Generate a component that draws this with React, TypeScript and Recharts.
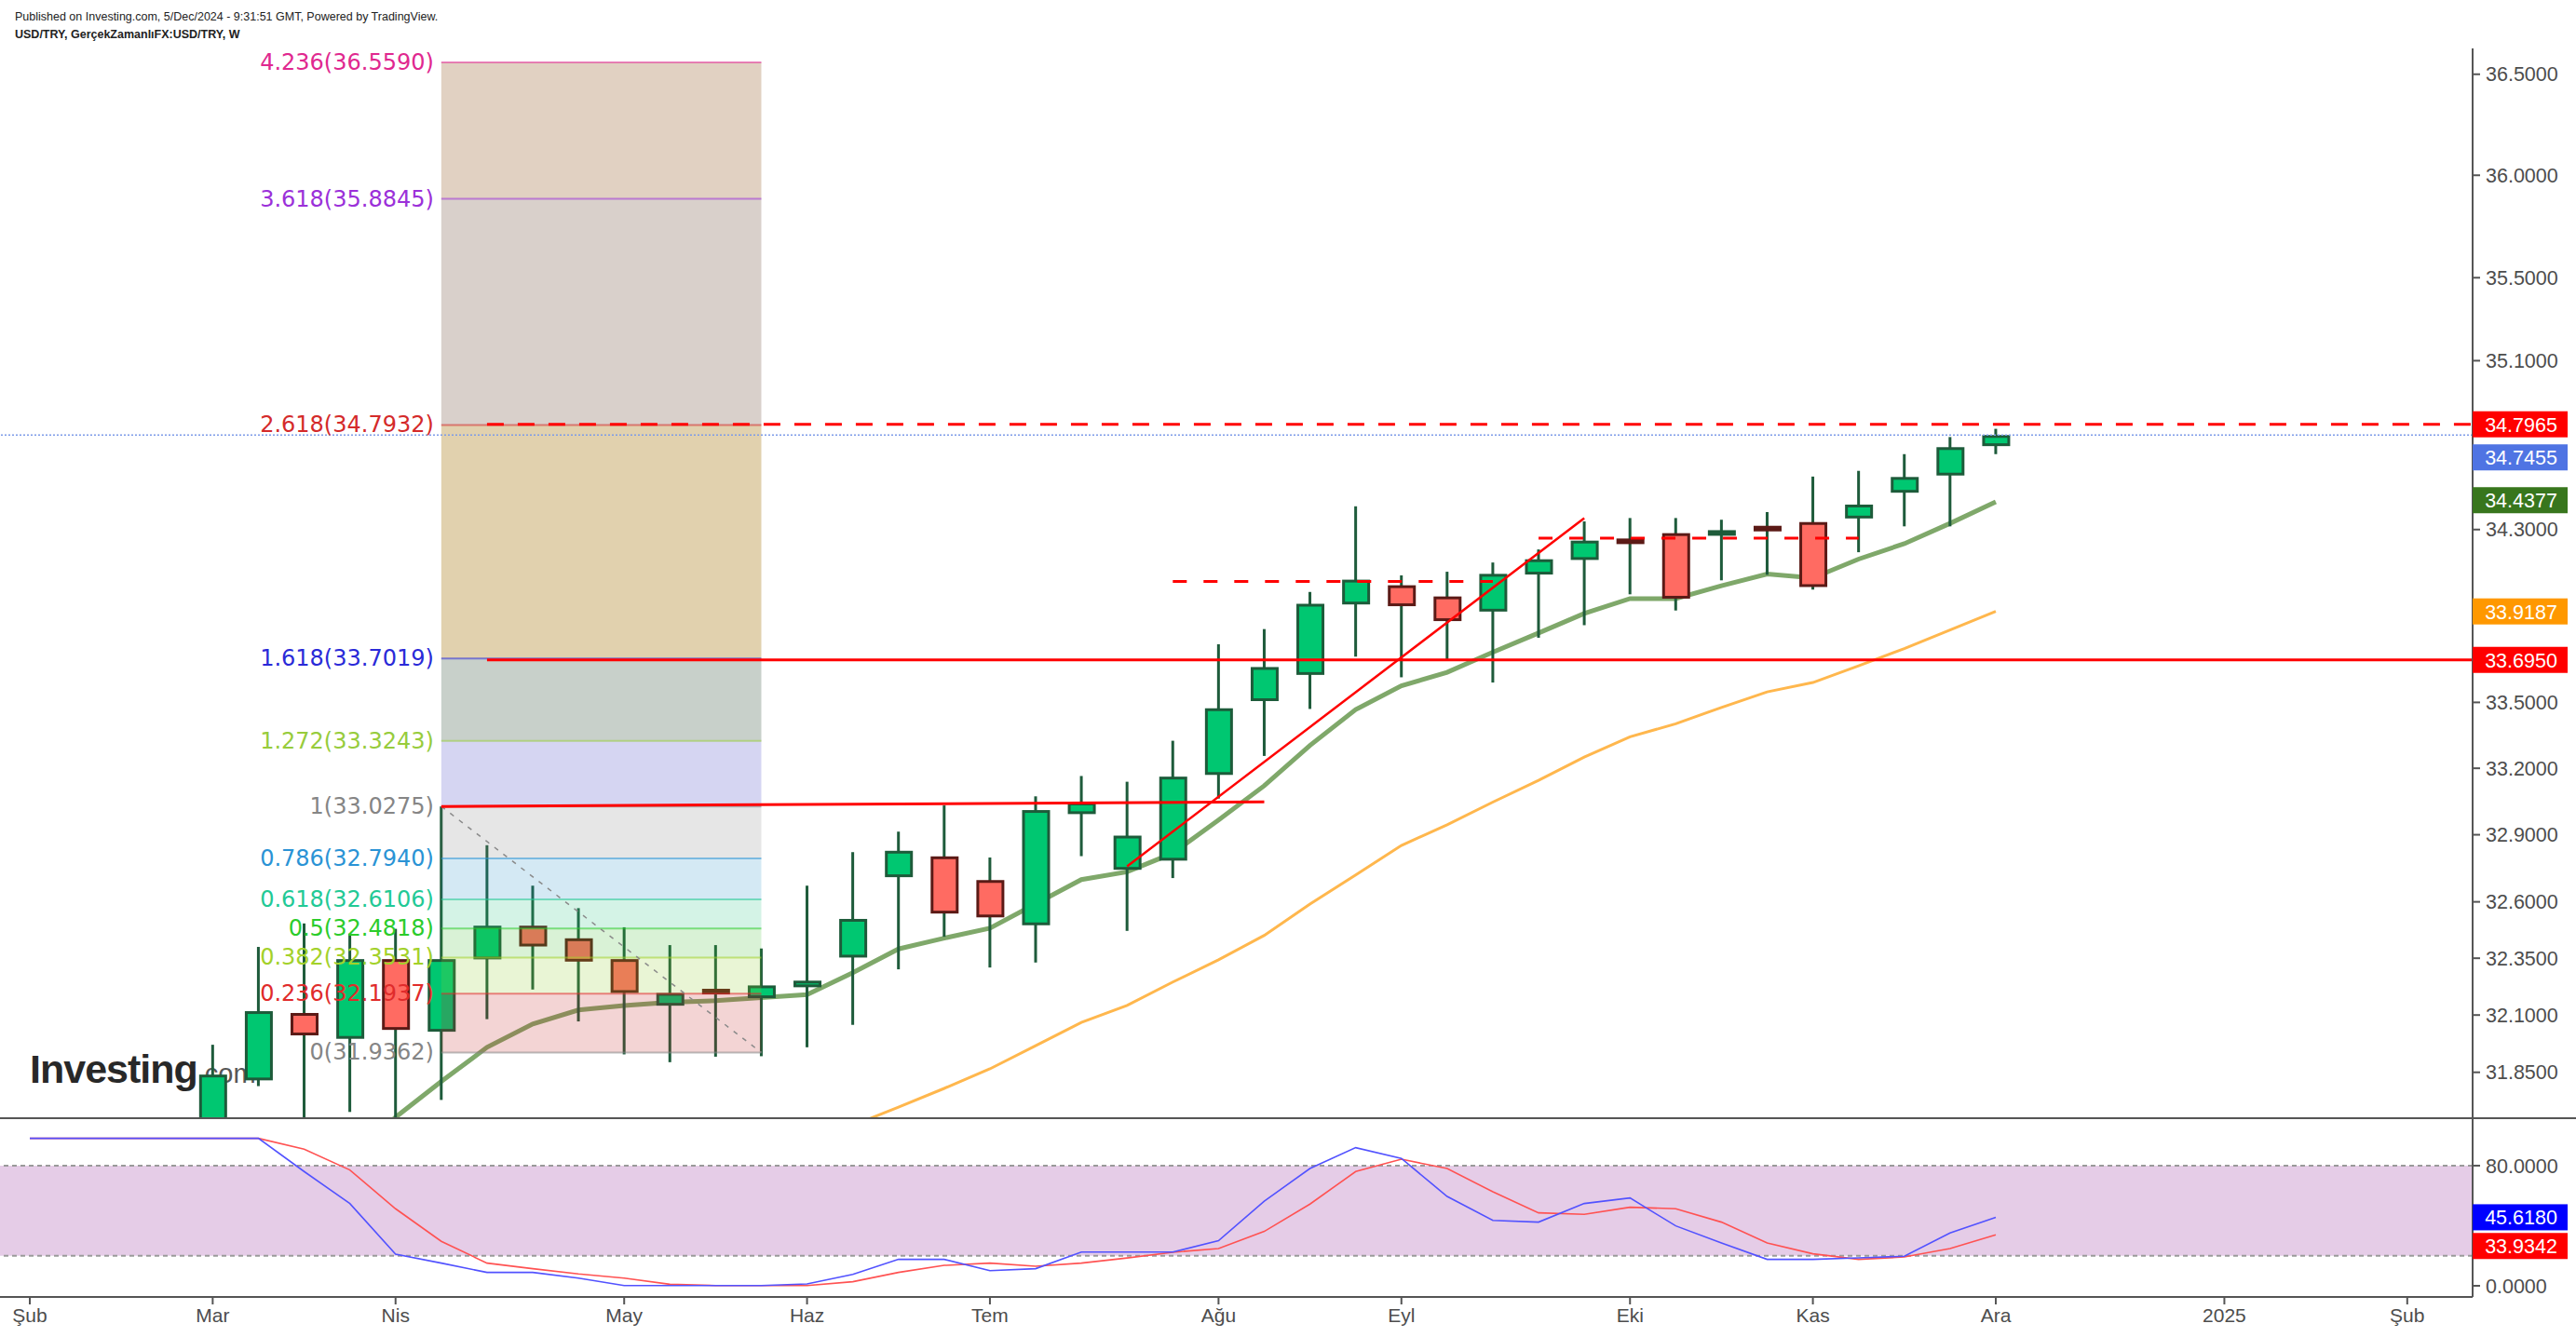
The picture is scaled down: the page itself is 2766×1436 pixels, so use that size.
import React from 'react';
import { ComposedChart, Bar, Line, XAxis, YAxis, ReferenceArea, ReferenceLine, ReferenceDot } from 'recharts';

// weekly bars, week index 0 = 5 Feb 2024
const candleStart = 4;
const candleOpen = [31.45, 31.815, 32.109, 31.996, 32.346, 32.027, 32.345, 32.494, 32.438, 32.346, 32.141, 32.209, 32.174, 32.222, 32.353, 32.71, 32.803, 32.697, 32.496, 32.993, 32.743, 32.784, 33.17, 33.506, 33.626, 33.951, 34.04, 33.988, 33.918, 34.09, 34.158, 34.251, 34.283, 34.279, 34.311, 34.335, 34.352, 34.473, 34.554, 34.693];
const candleHigh = [31.97, 32.4, 32.504, 32.459, 32.48, 33.0275, 32.853, 32.672, 32.572, 32.487, 32.408, 32.408, 32.393, 32.672, 32.822, 32.914, 33.032, 32.798, 33.073, 33.165, 33.139, 33.325, 33.767, 33.837, 34.009, 34.409, 34.086, 34.103, 34.146, 34.207, 34.338, 34.354, 34.354, 34.346, 34.382, 34.549, 34.576, 34.655, 34.736, 34.775];
const candleLow = [31.4, 31.79, 31.55, 31.678, 31.55, 31.73, 32.082, 32.212, 32.072, 31.928, 31.894, 31.918, 31.92, 31.959, 32.057, 32.301, 32.445, 32.309, 32.331, 32.804, 32.471, 32.706, 33.063, 33.256, 33.47, 33.71, 33.615, 33.69, 33.591, 33.797, 33.855, 33.998, 33.923, 34.063, 34.089, 34.02, 34.194, 34.315, 34.315, 34.655];
const candleClose = [31.84, 32.117, 32.011, 32.346, 32.035, 32.346, 32.494, 32.402, 32.335, 32.197, 32.197, 32.197, 32.23, 32.251, 32.524, 32.828, 32.548, 32.531, 33.011, 33.045, 32.896, 33.162, 33.473, 33.662, 33.954, 34.066, 33.943, 33.874, 34.093, 34.161, 34.248, 34.239, 33.978, 34.289, 34.298, 34.032, 34.417, 34.547, 34.688, 34.7455];

const fastStart = 6;
const emaFast = [31.3, 31.47, 31.655, 31.81, 31.959, 32.061, 32.122, 32.142, 32.156, 32.163, 32.176, 32.19, 32.286, 32.391, 32.439, 32.483, 32.591, 32.699, 32.734, 32.817, 32.966, 33.121, 33.304, 33.467, 33.576, 33.638, 33.73, 33.819, 33.909, 33.978, 33.978, 34.038, 34.092, 34.074, 34.162, 34.234, 34.329, 34.43];
const slowStart = 17;
const emaSlow = [31.54, 31.62, 31.699, 31.78, 31.865, 31.966, 32.068, 32.142, 32.245, 32.343, 32.451, 32.59, 32.72, 32.852, 32.945, 33.047, 33.145, 33.251, 33.343, 33.402, 33.477, 33.548, 33.591, 33.668, 33.747, 33.833, 33.9187];

const stochK = [98.2, 98.2, 98.2, 98.2, 98.2, 98.2, 76.1, 54.8, 21.1, 15.1, 8.9, 8.9, 5.1, 0.2, 0.2, 0.2, 0.2, 1.2, 7.6, 17.6, 17.6, 10.1, 11.4, 22.5, 22.5, 22.5, 30.0, 56.4, 78.1, 92.0, 84.8, 59.5, 43.6, 42.4, 54.8, 58.5, 39.9, 28.5, 17.6, 17.6, 18.6, 19.7, 35.2, 45.618];
const stochD = [98.2, 98.2, 98.2, 98.2, 98.2, 98.2, 91.0, 77.1, 51.3, 29.6, 15.1, 11.4, 7.9, 5.1, 1.0, 0.2, 0.2, 0.2, 2.7, 8.9, 13.6, 15.1, 13.0, 15.1, 18.5, 22.3, 24.8, 36.2, 54.4, 76.1, 84.3, 78.1, 62.6, 48.6, 47.6, 52.3, 51.3, 42.4, 28.5, 21.3, 17.6, 19.2, 24.8, 33.9342];

const monthTicks = [0, 4, 8, 13, 17, 21, 26, 30, 35, 39, 43, 48, 52];
const monthLabels = ['Şub', 'Mar', 'Nis', 'May', 'Haz', 'Tem', 'Ağu', 'Eyl', 'Eki', 'Kas', 'Ara', '2025', 'Şub'];
const priceTicks = [31.85, 32.1, 32.35, 32.6, 32.9, 33.2, 33.5, 34.3, 35.1, 35.5, 36.0, 36.5];
const stochTicks = [0, 80];

const fibRatios = ['0', '0.236', '0.382', '0.5', '0.618', '0.786', '1', '1.272', '1.618', '2.618', '3.618', '4.236'];
const fibPrices = [31.9362, 32.1937, 32.3531, 32.4818, 32.6106, 32.794, 33.0275, 33.3243, 33.7019, 34.7932, 35.8845, 36.559];
const fibColors = ['#858585', '#e02b2b', '#a3d12a', '#2bcc2b', '#22c995', '#2a93d5', '#858585', '#97cc3c', '#2a2ad8', '#d42a2a', '#9b30d9', '#e0288f'];
const fibFills = ['#c32828', '#91cd2d', '#41be32', '#28c382', '#2891c8', '#828282', '#2d2dbe', '#486250', '#a97c18', '#806252', '#9b6634'];
const fibAlpha = [0.2, 0.2, 0.2, 0.2, 0.2, 0.2, 0.2, 0.3, 0.35, 0.3, 0.3];
const fibFrom = 9;
const fibTo = 16;

const xDomain = [-0.652, 53.43];
const priceDomain = [31.651, 36.629];
const stochDomain = [-7.44, 111.6];

const axisFont = '"Liberation Sans", Arial, sans-serif';
const fibFont = '"DejaVu Sans", Verdana, sans-serif';

const priceRows = candleOpen.map((o, k) => {
  const i = k + candleStart;
  const c = candleClose[k];
  return {
    i,
    o,
    c,
    body: [Math.min(o, c), Math.max(o, c)],
    wick: [candleLow[k], candleHigh[k]],
    fast: i >= fastStart ? emaFast[i - fastStart] : null,
    slow: i >= slowStart ? emaSlow[i - slowStart] : null,
  };
});

const stochRows = stochK.map((k, i) => ({ i, k, d: stochD[i] }));

const Body = (p: any) => {
  const { x, y, width, height, payload } = p;
  if (x == null || isNaN(y)) return null;
  const up = payload.c >= payload.o;
  const h = Math.max(height, 6);
  const yy = y - (h - height) / 2;
  return (
    <rect x={x + 1.5} y={yy + 1.5} width={width - 3} height={h - 3}
      fill={up ? '#00c771' : '#ff6b62'} stroke={up ? '#1d5b3a' : '#5b1a16'} strokeWidth={3} />
  );
};

const Wick = (p: any) => {
  const { x, y, width, height } = p;
  if (x == null || isNaN(y)) return null;
  return <rect x={x} y={y} width={width} height={height} fill="#1e5b3b" />;
};

const tag = (text: string, bg: string, dy = 0) => (props: any) => {
  const vb = props.viewBox || {};
  const x = vb.x + (vb.width || 0) / 2;
  const y = vb.y + (vb.height || 0) / 2 + dy;
  return (
    <g>
      <rect x={x} y={y - 14} width={102} height={28} fill={bg} />
      <text x={x + 52} y={y + 1} textAnchor="middle" dominantBaseline="central" fill="#fff"
        fontSize={21.5} fontFamily={axisFont}>{text}</text>
    </g>
  );
};

const fibLabel = (text: string, color: string) => (props: any) => {
  const vb = props.viewBox || {};
  const x = vb.x + (vb.width || 0) / 2;
  const y = vb.y + (vb.height || 0) / 2;
  return (
    <text x={x - 8} y={y} textAnchor="end" dominantBaseline="central" fill={color}
      fontSize={24} fontFamily={fibFont}>{text}</text>
  );
};

const mainTags = [
  { v: 34.7965, bg: '#ff0000', dy: 0 },
  { v: 34.7455, bg: '#4f74e3', dy: 24 },
  { v: 34.4377, bg: '#38761d', dy: 0 },
  { v: 33.9187, bg: '#ff9800', dy: 0 },
  { v: 33.695, bg: '#ff0000', dy: 0 },
];
const stochTags = [
  { v: 45.618, bg: '#0000ff', dy: 0 },
  { v: 33.9342, bg: '#ff0000', dy: 12 },
];

const ids = { xAxisId: 'm', yAxisId: 'p' };
const z = (n: number): any => ({ zIndex: n });

export default function App() {
  return (
    <div style={{ position: 'absolute', left: 0, top: 0, width: 2766, height: 1436, background: '#fff', overflow: 'hidden' }}>
      <div style={{ position: 'absolute', left: 16, top: 10, fontFamily: axisFont, fontSize: 12.5, color: '#222', lineHeight: '17px' }}>
        <div>Published on Investing.com, 5/Dec/2024 - 9:31:51 GMT, Powered by TradingView.</div>
        <div style={{ fontWeight: 700, marginTop: 2 }}>USD/TRY, GerçekZamanlıFX:USD/TRY, W</div>
      </div>
      <div style={{ position: 'absolute', left: 32, top: 1124, fontFamily: axisFont, whiteSpace: 'nowrap', opacity: 0.9 }}>
        <span style={{ fontSize: 43, fontWeight: 900, color: '#111', letterSpacing: -1 }}>Investing</span>
        <span style={{ fontSize: 29, color: '#444' }}>.com</span>
      </div>
      <div style={{ position: 'absolute', left: 0, top: 0 }}>
        <ComposedChart width={2766} height={1201} data={priceRows} margin={{ top: 52, right: 0, bottom: 0, left: 0 }}>
          <XAxis xAxisId="m" dataKey="i" type="number" domain={xDomain} allowDataOverflow hide />
          <XAxis xAxisId="w" dataKey="i" type="number" domain={xDomain} allowDataOverflow hide />
          <YAxis yAxisId="p" orientation="right" width={111} scale="log" domain={priceDomain} allowDataOverflow
            ticks={priceTicks} interval={0} tickFormatter={(v: number) => v.toFixed(4)}
            axisLine={{ stroke: '#555', strokeWidth: 2 }} tickLine={{ stroke: '#555', strokeWidth: 2 }}
            tickSize={8} tickMargin={6} tick={{ fill: '#4d4d4d', fontSize: 21.5, fontFamily: axisFont }} />
          <Line {...ids} {...z(250)} dataKey="slow" stroke="#ffb74d" strokeWidth={3} dot={false} isAnimationActive={false} />
          <Line {...ids} {...z(250)} dataKey="fast" stroke="#7fa86a" strokeWidth={5} dot={false} isAnimationActive={false} />
          <Bar xAxisId="w" yAxisId="p" {...z(300)} dataKey="wick" barSize={3} shape={Wick} isAnimationActive={false} />
          <Bar xAxisId="m" yAxisId="p" {...z(300)} dataKey="body" barSize={30} shape={Body} isAnimationActive={false} />
          {fibFills.map((f, k) => (
            <ReferenceArea key={`fa${k}`} {...ids} {...z(350)} x1={fibFrom} x2={fibTo} y1={fibPrices[k]} y2={fibPrices[k + 1]}
              fill={f} fillOpacity={fibAlpha[k]} stroke="none" ifOverflow="visible" />
          ))}
          {fibPrices.map((p, k) => (
            <ReferenceLine key={`fl${k}`} {...ids} {...z(400)} segment={[{ x: fibFrom, y: p }, { x: fibTo, y: p }]}
              stroke={fibColors[k]} strokeOpacity={0.55} strokeWidth={2} ifOverflow="visible" />
          ))}
          <ReferenceLine {...ids} {...z(400)} segment={[{ x: fibFrom, y: fibPrices[6] }, { x: fibTo, y: fibPrices[0] }]}
            stroke="#8a8a8a" strokeWidth={1.5} strokeDasharray="5 7" />
          <ReferenceLine {...ids} {...z(400)} y={34.7455} stroke="#7d9be8" strokeWidth={1.5} strokeDasharray="2 2" />
          <ReferenceLine {...ids} {...z(400)} segment={[{ x: 10, y: 34.7965 }, { x: xDomain[1], y: 34.7965 }]}
            stroke="#ff0000" strokeWidth={3} strokeDasharray="18 15" />
          <ReferenceLine {...ids} {...z(400)} segment={[{ x: 10, y: 33.695 }, { x: xDomain[1], y: 33.695 }]}
            stroke="#ff0000" strokeWidth={3} />
          <ReferenceLine {...ids} {...z(400)} segment={[{ x: 9, y: 33.0275 }, { x: 27, y: 33.048 }]}
            stroke="#ff0000" strokeWidth={3} />
          <ReferenceLine {...ids} {...z(400)} segment={[{ x: 24, y: 32.758 }, { x: 34, y: 34.354 }]}
            stroke="#ff0000" strokeWidth={2.5} />
          <ReferenceLine {...ids} {...z(400)} segment={[{ x: 25, y: 34.058 }, { x: 32, y: 34.058 }]}
            stroke="#ff0000" strokeWidth={3} strokeDasharray="15 18" />
          <ReferenceLine {...ids} {...z(400)} segment={[{ x: 33, y: 34.26 }, { x: 40, y: 34.26 }]}
            stroke="#ff0000" strokeWidth={3} strokeDasharray="15 18" />
          {fibPrices.map((p, k) => (
            <ReferenceDot key={`fd${k}`} {...ids} x={fibFrom} y={p} r={1} fill="none" stroke="none" ifOverflow="visible"
              label={fibLabel(`${fibRatios[k]}(${p.toFixed(4)})`, fibColors[k])} />
          ))}
          {mainTags.map((t, k) => (
            <ReferenceDot key={`mt${k}`} {...ids} x={xDomain[1]} y={t.v} r={1} fill="none" stroke="none" ifOverflow="visible"
              label={tag(t.v.toFixed(4), t.bg, t.dy)} />
          ))}
        </ComposedChart>
      </div>
      <div style={{ position: 'absolute', left: 0, top: 1200, width: 2766, height: 2, background: '#555' }} />
      <div style={{ position: 'absolute', left: 0, top: 1201 }}>
        <ComposedChart width={2766} height={235} data={stochRows} margin={{ top: 0, right: 0, bottom: 0, left: 0 }}>
          <XAxis dataKey="i" type="number" domain={xDomain} allowDataOverflow ticks={monthTicks} interval={0}
            tickFormatter={(v: number) => monthLabels[monthTicks.indexOf(v)]} height={43}
            axisLine={{ stroke: '#555', strokeWidth: 2 }} tickLine={{ stroke: '#555', strokeWidth: 2 }}
            tickSize={8} tickMargin={4} tick={{ fill: '#4d4d4d', fontSize: 21, fontFamily: axisFont }} />
          <YAxis orientation="right" width={111} domain={stochDomain} allowDataOverflow ticks={stochTicks} interval={0}
            tickFormatter={(v: number) => v.toFixed(4)}
            axisLine={{ stroke: '#555', strokeWidth: 2 }} tickLine={{ stroke: '#555', strokeWidth: 2 }}
            tickSize={8} tickMargin={6} tick={{ fill: '#4d4d4d', fontSize: 21.5, fontFamily: axisFont }} />
          <ReferenceArea y1={20} y2={80} fill="#e5cce7" fillOpacity={1} stroke="none" />
          <ReferenceLine y={80} stroke="#9a9a9a" strokeWidth={2} strokeDasharray="5 4" />
          <ReferenceLine y={20} stroke="#9a9a9a" strokeWidth={2} strokeDasharray="5 4" />
          <Line dataKey="d" stroke="#ff5252" strokeWidth={1.6} dot={false} isAnimationActive={false} />
          <Line dataKey="k" stroke="#5252ff" strokeWidth={1.6} dot={false} isAnimationActive={false} />
          {stochTags.map((t, k) => (
            <ReferenceDot key={`st${k}`} x={xDomain[1]} y={t.v} r={1} fill="none" stroke="none" ifOverflow="visible"
              label={tag(t.v.toFixed(4), t.bg, t.dy)} />
          ))}
        </ComposedChart>
      </div>
    </div>
  );
}
